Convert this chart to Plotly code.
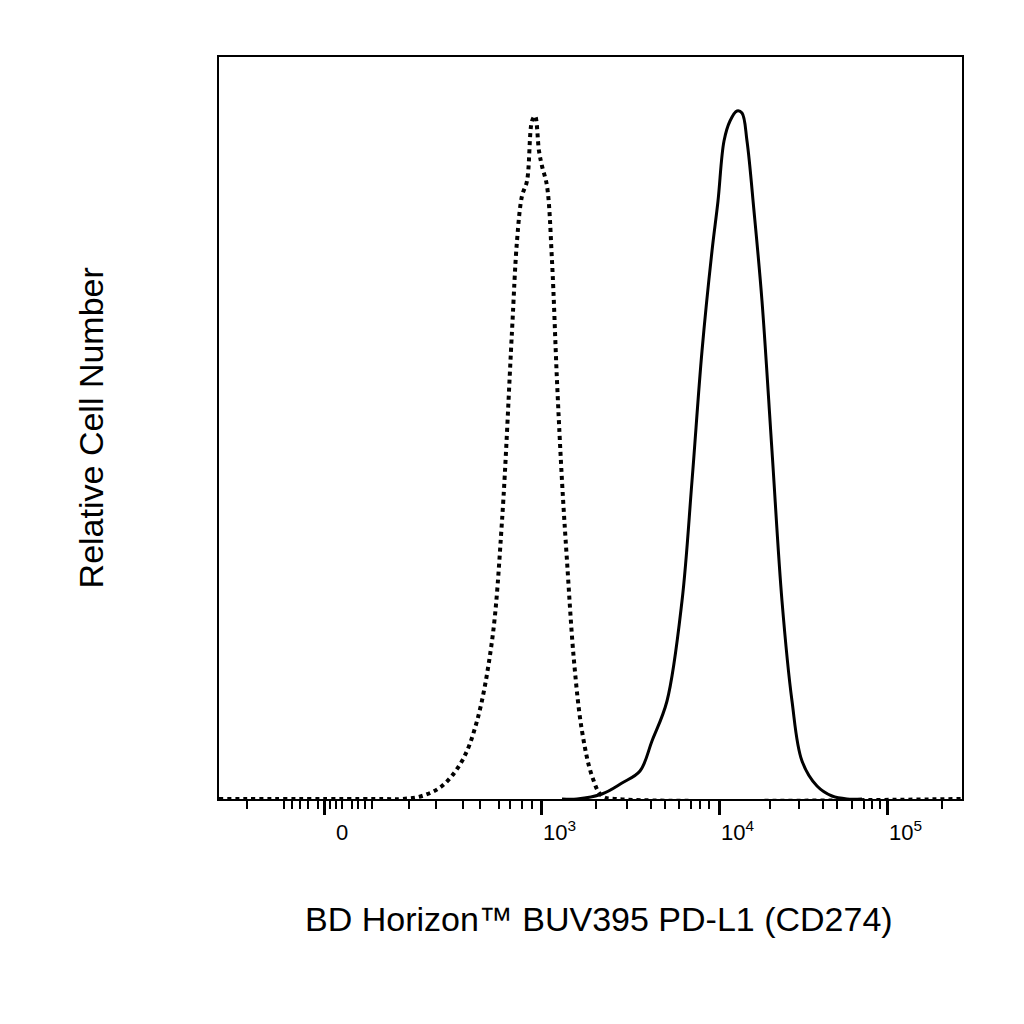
import plotly.graph_objects as go

# x values are positions on the biexponential display scale (axis units), y is relative count
iso_x = [217, 380, 400, 420, 440, 460, 475, 490, 500, 510, 515, 520, 525, 530, 533, 537, 540, 545, 550,
         555, 560, 565, 572, 580, 590, 600, 615, 960]
iso_y = [0, 0, 0, 3, 13, 38, 78, 158, 278, 468, 558, 603, 618, 678, 683, 648, 633, 613, 538,
         418, 318, 238, 138, 68, 23, 3, 0, 0]
stain_x = [560, 575, 600, 620, 638, 650, 665, 680, 690, 700, 710, 716, 722, 728, 735, 740, 745,
           752, 760, 770, 780, 790, 800, 815, 830, 845, 860]
stain_y = [0, 0, 5, 16, 28, 58, 98, 198, 318, 448, 548, 598, 658, 678, 688, 686, 658,
           588, 498, 348, 198, 98, 38, 13, 3, 0, 0]

major_ticks = [322, 539, 717, 885]
tick_labels = ["0", "10<sup>3</sup>", "10<sup>4</sup>", "10<sup>5</sup>"]
minor_ticks = [245, 282, 290, 298, 306, 316, 328, 334, 340, 350, 356, 363, 370,
               407, 434, 461, 478, 497, 508, 520, 530,
               594, 625, 649, 663, 677, 689, 698, 707,
               768, 797, 821, 835, 850, 862, 870, 878, 940]

fig = go.Figure()
fig.add_trace(go.Scatter(x=iso_x, y=iso_y, mode="lines",
                         line=dict(color="black", width=4, dash="dot", shape="spline")))
fig.add_trace(go.Scatter(x=stain_x, y=stain_y, mode="lines",
                         line=dict(color="black", width=3, shape="spline")))

for v, t in zip(major_ticks, tick_labels):
    fig.add_annotation(x=v + 18, y=-0.065, text=t, showarrow=False, xref="x", yref="paper",
                       font=dict(size=22, color="black"))

fig.update_xaxes(range=[217, 960], tickvals=major_ticks, ticktext=["", "", "", ""],
                 ticks="outside", ticklen=14, tickwidth=3, tickcolor="black",
                 minor=dict(tickvals=minor_ticks, ticks="outside", ticklen=8, tickwidth=2, tickcolor="black"),
                 showline=True, linecolor="black", linewidth=2, mirror=True, showgrid=False, zeroline=False)
fig.update_yaxes(range=[0, 742], showticklabels=False, ticks="",
                 showline=True, linecolor="black", linewidth=2, mirror=True, showgrid=False, zeroline=False)

fig.add_annotation(x=0.5, y=-0.19, xref="paper", yref="paper", showarrow=False,
                   text="BD Horizon™ BUV395 PD-L1 (CD274)", font=dict(size=34, color="black"),
                   xshift=8)
fig.add_annotation(x=-0.2, y=0.5, xref="paper", yref="paper", showarrow=False, textangle=-90,
                   text="Relative Cell Number", font=dict(size=34, color="black"))

fig.update_layout(width=1024, height=1024, showlegend=False, plot_bgcolor="white", paper_bgcolor="white",
                  margin=dict(l=211, r=70, t=49, b=233),
                  font=dict(family="Liberation Sans, Arial, sans-serif"))
fig.write_html("out.html")
